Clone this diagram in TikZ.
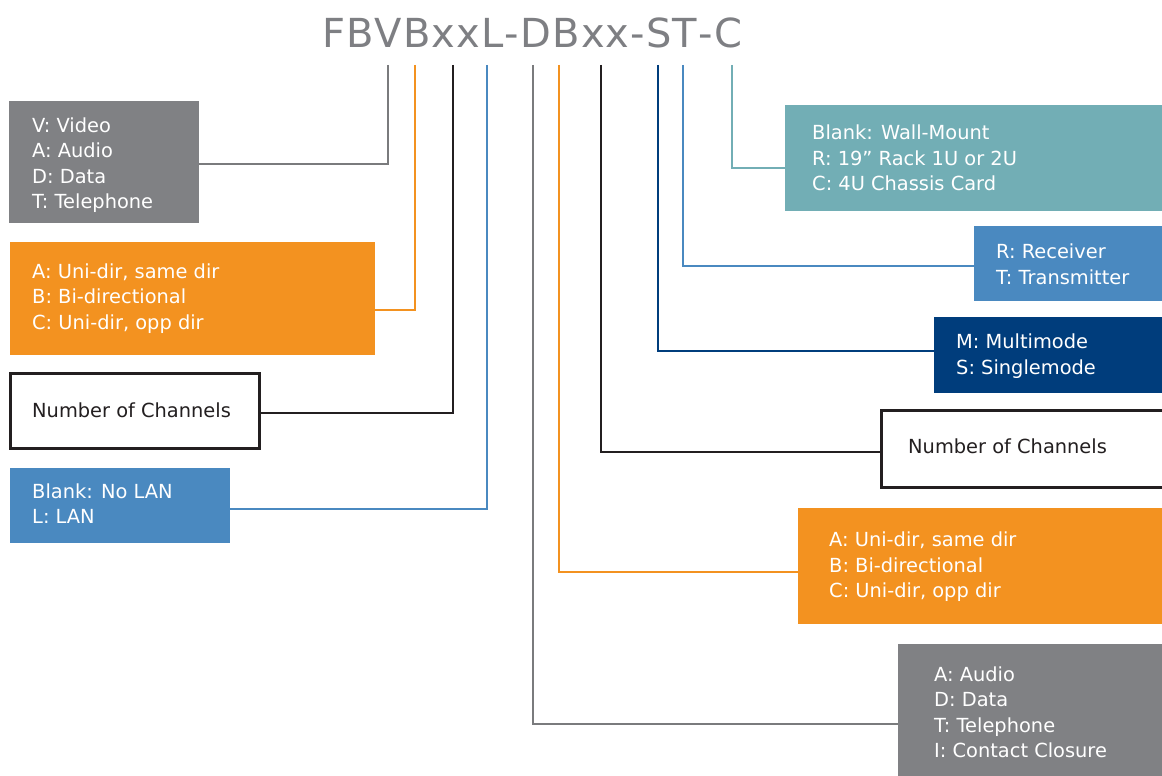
\documentclass[tikz,border=0pt]{standalone}
\usepackage{fontspec}
\setmainfont{DejaVu Sans}
\definecolor{cgray}{HTML}{808184}
\definecolor{corange}{HTML}{F39220}
\definecolor{cblue}{HTML}{4A89C0}
\definecolor{cteal}{HTML}{72AEB5}
\definecolor{cdblue}{HTML}{003D7C}
\definecolor{cblack}{HTML}{231F20}
\definecolor{ctitle}{HTML}{7E7F83}
\begin{document}
\begin{tikzpicture}[x=1pt,y=-1pt,
  box/.style={rectangle, inner sep=0pt, outer sep=0pt, anchor=north west},
  txt/.style={anchor=west, align=left, inner sep=0pt, text=white,
    font=\fontsize{19.4}{25.5}\selectfont},
  conn/.style={line width=2.6pt},
  wbox/.style={box, draw=cblack, line width=3pt, fill=white}]
\useasboundingbox (0,0) rectangle (1162,776);

% title
\node[anchor=base, text=ctitle, inner sep=0pt, font=\fontsize{40}{40}\selectfont] (title) at (532,48)
  {\makebox[420pt][s]{F\hfil B\hfil V\hfil B\hfil x\hfil x\hfil L\hfil -\hfil D\hfil B\hfil x\hfil x\hfil -\hfil S\hfil T\hfil -\hfil C}};

% line tops
\coordinate (p1) at (388,65);
\coordinate (p2) at (415,65);
\coordinate (p3) at (453,65);
\coordinate (p4) at (487,65);
\coordinate (p5) at (533,65);
\coordinate (p6) at (559,65);
\coordinate (p7) at (601,65);
\coordinate (p8) at (658,65);
\coordinate (p9) at (683,65);
\coordinate (p10) at (732,65);

% left boxes
\node[box, fill=cgray, minimum width=190pt, minimum height=122pt] (b1) at (9,101) {};
\node[box, fill=corange, minimum width=365pt, minimum height=113pt] (b2) at (10,242) {};
\node[wbox, minimum width=249pt, minimum height=75pt] (b3) at (10,373) {};
\node[box, fill=cblue, minimum width=220pt, minimum height=75pt] (b4) at (10,468) {};

% right boxes
\node[box, fill=cteal, minimum width=380pt, minimum height=106pt] (b5) at (785,105) {};
\node[box, fill=cblue, minimum width=191pt, minimum height=75pt] (b6) at (974,226) {};
\node[box, fill=cdblue, minimum width=231pt, minimum height=76pt] (b7) at (934,317) {};
\node[wbox, minimum width=300pt, minimum height=77pt] (b8) at (881,410) {};
\node[box, fill=corange, minimum width=367pt, minimum height=116pt] (b9) at (798,508) {};
\node[box, fill=cgray, minimum width=267pt, minimum height=136pt] (b10) at (898,644) {};

% texts
\node[txt] (t1) at ([xshift=23pt,yshift=-3pt]b1.west) {V: Video\\A: Audio\\D: Data\\T: Telephone};
\node[txt] (t2) at ([xshift=22pt]b2.west) {A: Uni-dir, same dir\\B: Bi-directional\\C: Uni-dir, opp dir};
\node[txt, text=cblack] (t3) at ([xshift=22pt]b3.west) {Number of Channels};
\node[txt] (t4) at ([xshift=22pt,yshift=2pt]b4.west) {Blank: No LAN\\L: LAN};
\node[txt] (t5) at ([xshift=27pt]b5.west) {Blank: Wall-Mount\\R: 19” Rack 1U or 2U\\C: 4U Chassis Card};
\node[txt] (t6) at ([xshift=22pt,yshift=-1pt]b6.west) {R: Receiver\\T: Transmitter};
\node[txt] (t7) at ([xshift=22pt,yshift=-1pt]b7.west) {M: Multimode\\S: Singlemode};
\node[txt, text=cblack] (t8) at ([xshift=27pt,yshift=2pt]b8.west) {Number of Channels};
\node[txt] (t9) at ([xshift=31pt,yshift=-1pt]b9.west) {A: Uni-dir, same dir\\B: Bi-directional\\C: Uni-dir, opp dir};
\node[txt] (t10) at ([xshift=36pt,yshift=-0.5pt]b10.west) {A: Audio\\D: Data\\T: Telephone\\I: Contact Closure};

% connectors
\draw[conn, cgray!95!black] (p1) |- ([yshift=-2pt]b1.east);
\draw[conn, corange] (p2) |- ([yshift=-11.5pt]b2.east);
\draw[conn, cblack] (p3) |- ([yshift=-2.5pt]b3.east);
\draw[conn, cblue] (p4) |- ([yshift=-3.5pt]b4.east);
\draw[conn, cgray!95!black] (p5) |- ([yshift=-12pt]b10.west);
\draw[conn, corange] (p6) |- ([yshift=-6pt]b9.west);
\draw[conn, cblack] (p7) |- ([yshift=-3.5pt]b8.west);
\draw[conn, cdblue] (p8) |- ([yshift=4pt]b7.west);
\draw[conn, cblue] (p9) |- ([yshift=-2.5pt]b6.west);
\draw[conn, cteal] (p10) |- ([yshift=-10pt]b5.west);
\end{tikzpicture}
\end{document}
